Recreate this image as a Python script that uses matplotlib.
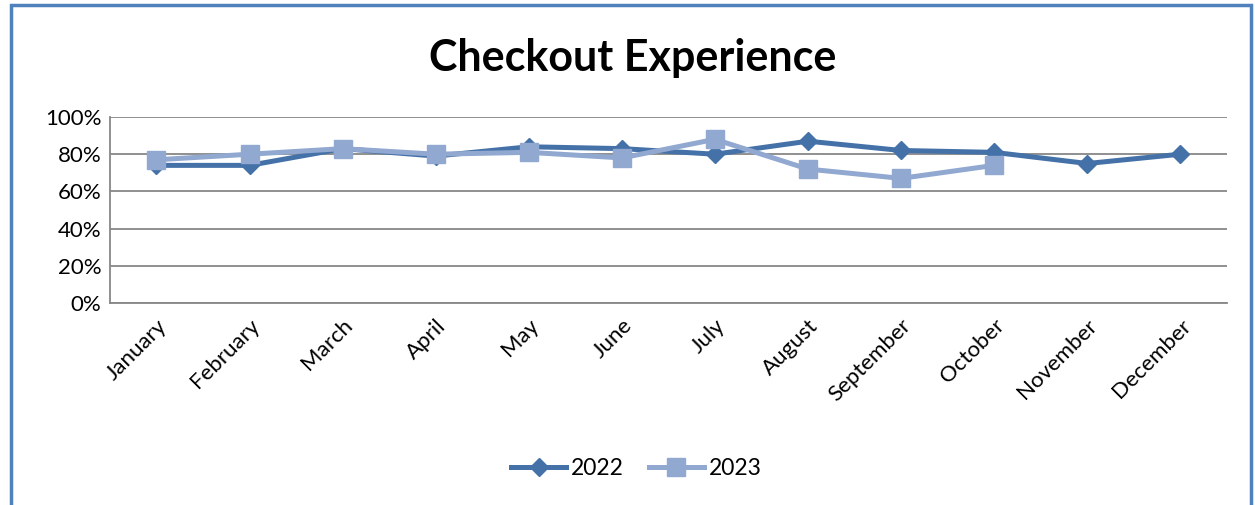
import numpy as np
import matplotlib.pyplot as plt
from matplotlib.patches import Rectangle
from matplotlib.ticker import PercentFormatter

months = ['January', 'February', 'March', 'April', 'May', 'June', 'July',
          'August', 'September', 'October', 'November', 'December']
sales_2022 = [74, 74, 83, 79, 84, 83, 80, 87, 82, 81, 75, 80]
sales_2023 = [77, 80, 83, 80, 81, 78, 88, 72, 67, 74]

c22 = '#4471a7'
c23 = '#91a8d0'

plt.rcParams['font.family'] = ['Lato', 'DejaVu Sans']

fig = plt.figure(figsize=(12.55, 5.05), dpi=100)
ax = fig.add_axes([0.0876, 0.40, 0.89, 0.3683])

x = np.arange(len(months))
ax.plot(x, sales_2022, color=c22, lw=3.6, marker='D', ms=9.5, label='2022')
ax.plot(x[:len(sales_2023)], sales_2023, color=c23, lw=3.6, marker='s', ms=13.5,
        label='2023')

ax.set_xlim(-0.5, len(months) - 0.5)
ax.set_ylim(0, 100)
ax.set_yticks(range(0, 101, 20))
ax.yaxis.set_major_formatter(PercentFormatter(decimals=0))
ax.grid(axis='y', color='#878787', lw=1.3)
ax.set_axisbelow(True)
ax.set_xticks(x)
ax.set_xticklabels(months, rotation=45, ha='right', rotation_mode='anchor')
ax.tick_params(axis='both', length=0, labelsize=16)
ax.tick_params(axis='y', pad=6)
ax.tick_params(axis='x', pad=9)
for s in ['top', 'right']:
    ax.spines[s].set_visible(False)
for s in ['left', 'bottom']:
    ax.spines[s].set_color('#878787')
    ax.spines[s].set_linewidth(1.3)

fig.text(0.504, 0.885, 'Checkout Experience', ha='center', va='center',
         fontsize=31, fontweight='bold')

leg = fig.legend(loc='center', bbox_to_anchor=(0.507, 0.073), ncol=2,
                 frameon=False, fontsize=16.5, handlelength=2.4,
                 columnspacing=1.1, handletextpad=0.2)

fig.patches.append(Rectangle((0.009, -0.05), 0.988, 1.04, transform=fig.transFigure,
                             fill=False, edgecolor='#4f81bd', lw=2.5))

fig.savefig('out.png', dpi=100)
